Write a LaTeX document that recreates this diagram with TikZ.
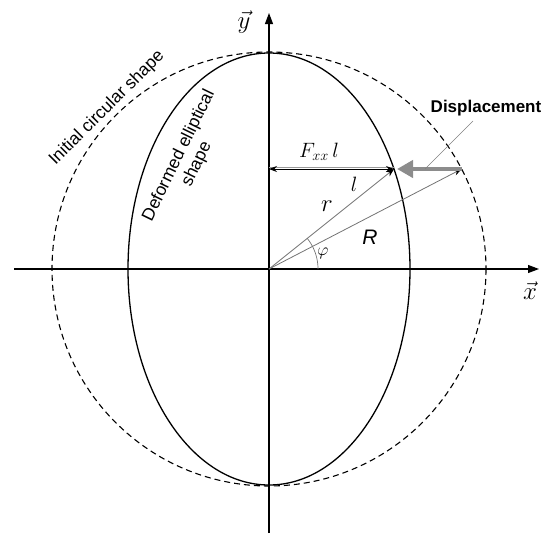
\documentclass[tikz,border=0pt]{standalone}
\usepackage{fontspec}
\setmainfont{Liberation Sans}
\usetikzlibrary{arrows.meta}
\begin{document}
\begin{tikzpicture}[x=1pt,y=-1pt,
  axis/.style={line width=1.1pt,-{Triangle[length=11pt,width=8pt]}},
  contour/.style={line width=1.3pt},
  initshape/.style={line width=1.1pt,dash pattern=on 6pt off 4pt},
  radline/.style={draw=black!55,line width=0.8pt,-{Stealth[length=8pt,width=6pt,black]}},
  lenarrow/.style={line width=0.8pt,{Stealth[length=8pt,width=6pt]}-{Stealth[length=8pt,width=6pt]}},
  disp/.style={draw=black!45,line width=4pt,-{Triangle[length=16pt,width=17pt]}},
  leader/.style={draw=black!50,line width=0.6pt},
  lab/.style={inner sep=0pt,font=\fontsize{17.5}{20}\selectfont,align=center},
  mlab/.style={inner sep=0pt,font=\fontsize{20}{22}\selectfont},
  vlab/.style={inner sep=0pt,font=\fontsize{24}{26}\selectfont}]
\useasboundingbox (0,0) rectangle (549,533);
% key points
\coordinate (O) at (269,269);
\coordinate (xs) at (14,269);
\coordinate (xe) at (539,269);
\coordinate (ys) at (269,533);
\coordinate (ye) at (269,13);
\coordinate (Y) at (269,169);
\coordinate (E) at (394,169);
\coordinate (C) at (461.6,169);
\coordinate (L) at (425,169);
% axes
\draw[axis] (xs) -- (xe);
\draw[axis] (ys) -- (ye);
% initial circle and deformed ellipse
\draw[initshape] (O) circle[radius=217];
\draw[contour] (O) ellipse[x radius=141, y radius=216];
% angle arc
\draw[draw=black!55,line width=0.7pt] plot[domain=0:38.7,samples=30] ({269+49*cos(\x)},{269-49*sin(\x)});
% radius lines
\draw[radline] (O) -- (E);
\draw[radline] (O) -- (C);
% displacement
\draw[disp] (C) -- ([xshift=3pt]E);
% F_xx l arrow
\draw[draw=black!40,line width=0.9pt] ([yshift=1.6pt]Y) -- ([yshift=1.6pt]E);
\draw[lenarrow] (Y) -- (E);
% labels
\node[vlab] (yl) at (244,22) {$\vec{y}$};
\node[vlab] (xl) at (530,291) {$\vec{x}$};
\node[mlab] (fl) at (319,152) {$F_{xx}\,l$};
\node[mlab] (ll) at (354,184) {$l$};
\node[mlab,font=\fontsize{23}{24}\selectfont] (rl) at (327,206) {$r$};
\node[inner sep=0pt,font=\fontsize{21}{24}\selectfont\itshape] (Rl) at (370,237) {R};
\node[mlab,font=\fontsize{17}{20}\selectfont] (pl) at (323,253) {$\varphi$};
\node[lab,rotate=45] (init) at (107,108) {Initial circular shape};
\node[lab,rotate=64] (def) at (188,160) {Deformed elliptical\\shape};
\node[inner sep=0pt,font=\fontsize{17}{19}\selectfont\bfseries] (dl) at (486,108) {Displacement};
\coordinate (dlx) at (473,121);
\draw[leader] (dlx) -- (L);
\end{tikzpicture}
\end{document}
